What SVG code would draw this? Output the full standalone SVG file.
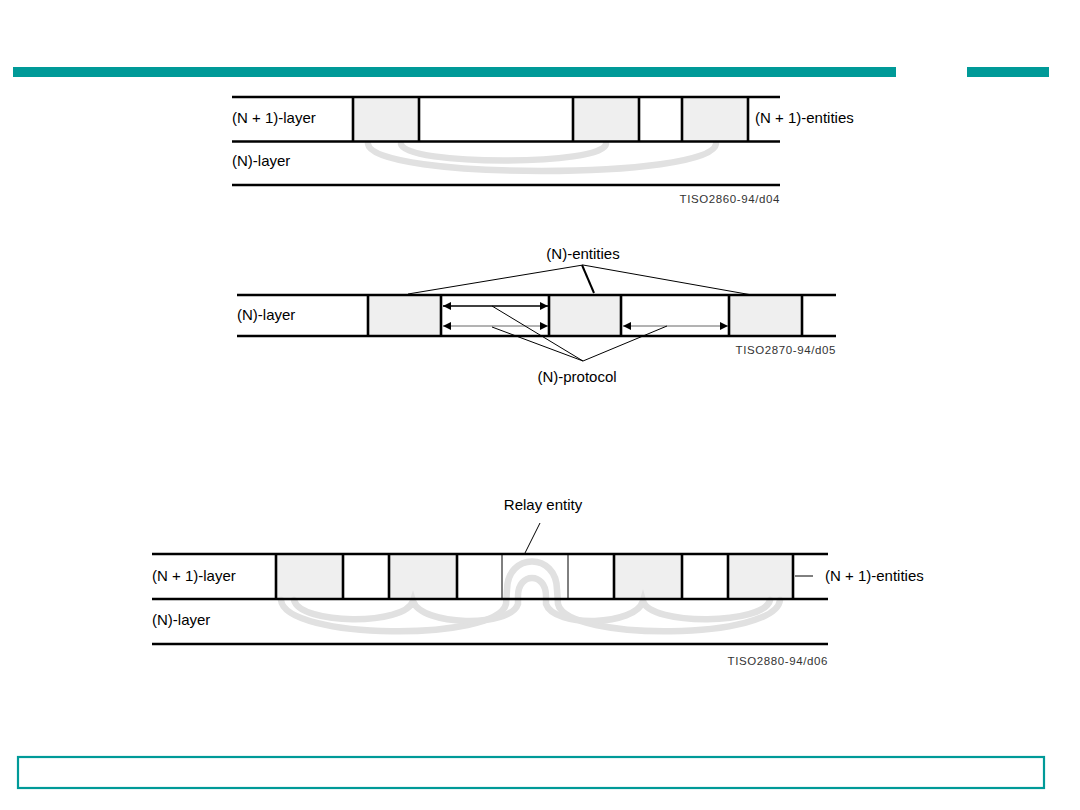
<svg xmlns="http://www.w3.org/2000/svg" width="1080" height="810" viewBox="0 0 1080 810">
<defs>
<style>
.lbl{font-family:"Liberation Sans",Arial,sans-serif;font-size:15px;fill:#000}
.ref{font-family:"Liberation Sans",Arial,sans-serif;font-size:11.5px;letter-spacing:0.6px;fill:#333}
.ln{stroke:#000;stroke-width:2.6;fill:none}
.vt{stroke:#000;stroke-width:2.6}
.vthin{stroke:#000;stroke-width:1}
.ent{fill:#efefef;stroke:none}
.arc{stroke:#e1e1e1;stroke-width:6.5;fill:none;stroke-linecap:round}
.lead{stroke:#000;stroke-width:1;fill:none}
.teal{fill:#009a98}
</style>
<marker id="ah" viewBox="0 0 10 10" refX="10" refY="5" markerWidth="10" markerHeight="8" markerUnits="userSpaceOnUse" orient="auto-start-reverse">
<path d="M0,0 L10,5 L0,10 z" fill="#000"/>
</marker>
</defs>
<rect width="1080" height="810" fill="#fff"/>
<g id="banner">
<rect class="teal" x="13" y="67" width="883" height="10"/>
<rect class="teal" x="967" y="67" width="82" height="10"/>
<rect x="18" y="757" width="1026" height="31" fill="none" stroke="#009a98" stroke-width="2.2"/>
</g>

<!-- Diagram 1 -->
<g id="d1-entities">
<rect class="ent" x="353" y="97" width="66" height="44"/>
<rect class="ent" x="573" y="97" width="66" height="44"/>
<rect class="ent" x="682" y="97" width="66" height="44"/>
</g>
<g id="d1-connectors">
<path class="arc" d="M368,144 C372,180 712,180 716,144"/>
<path class="arc" d="M401,144 C405,166 603,166 606,144"/>
</g>
<g id="d1-layers">
<line class="ln" x1="232" y1="97" x2="780" y2="97"/>
<line class="ln" x1="232" y1="141.5" x2="780" y2="141.5"/>
<line class="ln" x1="232" y1="185" x2="780" y2="185"/>
<line class="vt" x1="353" y1="97" x2="353" y2="141"/>
<line class="vt" x1="419" y1="97" x2="419" y2="141"/>
<line class="vt" x1="573" y1="97" x2="573" y2="141"/>
<line class="vt" x1="639" y1="97" x2="639" y2="141"/>
<line class="vt" x1="682" y1="97" x2="682" y2="141"/>
<line class="vt" x1="748" y1="97" x2="748" y2="141"/>
</g>
<g id="d1-labels">
<text class="lbl" x="232" y="123">(N + 1)-layer</text>
<text class="lbl" x="232" y="166">(N)-layer</text>
<text class="lbl" x="755" y="123">(N + 1)-entities</text>
<text class="ref" x="780" y="203" text-anchor="end">TISO2860-94/d04</text>
</g>

<!-- Diagram 2 -->
<g id="d2-entities">
<rect class="ent" x="368" y="295" width="73" height="41"/>
<rect class="ent" x="549" y="295" width="72" height="41"/>
<rect class="ent" x="729" y="295" width="73" height="41"/>
</g>
<g id="d2-layers">
<line class="ln" x1="237" y1="295" x2="836" y2="295"/>
<line class="ln" x1="237" y1="336" x2="836" y2="336"/>
<line class="vt" x1="368" y1="295" x2="368" y2="336"/>
<line class="vt" x1="441" y1="295" x2="441" y2="336"/>
<line class="vt" x1="549" y1="295" x2="549" y2="336"/>
<line class="vt" x1="621" y1="295" x2="621" y2="336"/>
<line class="vt" x1="729" y1="295" x2="729" y2="336"/>
<line class="vt" x1="802" y1="295" x2="802" y2="336"/>
</g>
<g id="d2-connectors">
<line x1="443" y1="306" x2="548" y2="306" stroke="#000" stroke-width="1.6" marker-start="url(#ah)" marker-end="url(#ah)"/>
<line x1="443" y1="326" x2="548" y2="326" stroke="#666" stroke-width="1" marker-start="url(#ah)" marker-end="url(#ah)"/>
<line x1="623" y1="326" x2="728" y2="326" stroke="#666" stroke-width="1" marker-start="url(#ah)" marker-end="url(#ah)"/>
<polyline class="lead" points="408,294 583,265 752,295"/>
<line x1="582" y1="265" x2="594" y2="293" stroke="#000" stroke-width="2"/>
<polyline class="lead" points="492,306 583,361 667,326"/>
<line class="lead" x1="492" y1="327" x2="583" y2="361"/>
</g>
<g id="d2-labels">
<text class="lbl" x="583" y="259" text-anchor="middle">(N)-entities</text>
<text class="lbl" x="237" y="320">(N)-layer</text>
<text class="lbl" x="577" y="382" text-anchor="middle">(N)-protocol</text>
<text class="ref" x="836" y="354" text-anchor="end">TISO2870-94/d05</text>
</g>

<!-- Diagram 3 -->
<g id="d3-entities">
<rect class="ent" x="276" y="554" width="67" height="45"/>
<rect class="ent" x="389" y="554" width="68" height="45"/>
<rect class="ent" x="614" y="554" width="68" height="45"/>
<rect class="ent" x="728" y="554" width="65" height="45"/>
</g>
<g id="d3-connectors">
<path class="arc" d="M281,600 C285,640 497,642 506,604 L507,590 C507,552 557,552 557,590 L558,604 C567,642 776,640 780,600"/>
<path class="arc" d="M294,600 C300,625 405,626 413,601 C421,626 510,628 518,604 L518,596 C518,572 546,572 546,596 L546,604 C554,628 636,626 643,601 C650,626 765,625 770,600"/>
<line class="lead" x1="540" y1="523" x2="525" y2="553"/>
<line class="lead" x1="795" y1="576" x2="813" y2="576"/>
</g>
<g id="d3-layers">
<line class="ln" x1="152" y1="554" x2="828" y2="554"/>
<line class="ln" x1="152" y1="599" x2="828" y2="599"/>
<line class="ln" x1="152" y1="644" x2="828" y2="644"/>
<line class="vt" x1="276" y1="554" x2="276" y2="599"/>
<line class="vt" x1="343" y1="554" x2="343" y2="599"/>
<line class="vt" x1="389" y1="554" x2="389" y2="599"/>
<line class="vt" x1="457" y1="554" x2="457" y2="599"/>
<line class="vthin" x1="502" y1="554" x2="502" y2="599"/>
<line class="vthin" x1="568" y1="554" x2="568" y2="599"/>
<line class="vt" x1="614" y1="554" x2="614" y2="599"/>
<line class="vt" x1="682" y1="554" x2="682" y2="599"/>
<line class="vt" x1="728" y1="554" x2="728" y2="599"/>
<line class="vt" x1="793" y1="554" x2="793" y2="599"/>
</g>
<g id="d3-labels">
<text class="lbl" x="152" y="581">(N + 1)-layer</text>
<text class="lbl" x="152" y="625">(N)-layer</text>
<text class="lbl" x="825" y="581">(N + 1)-entities</text>
<text class="lbl" x="543" y="510" text-anchor="middle">Relay entity</text>
<text class="ref" x="828" y="665" text-anchor="end">TISO2880-94/d06</text>
</g>
</svg>
